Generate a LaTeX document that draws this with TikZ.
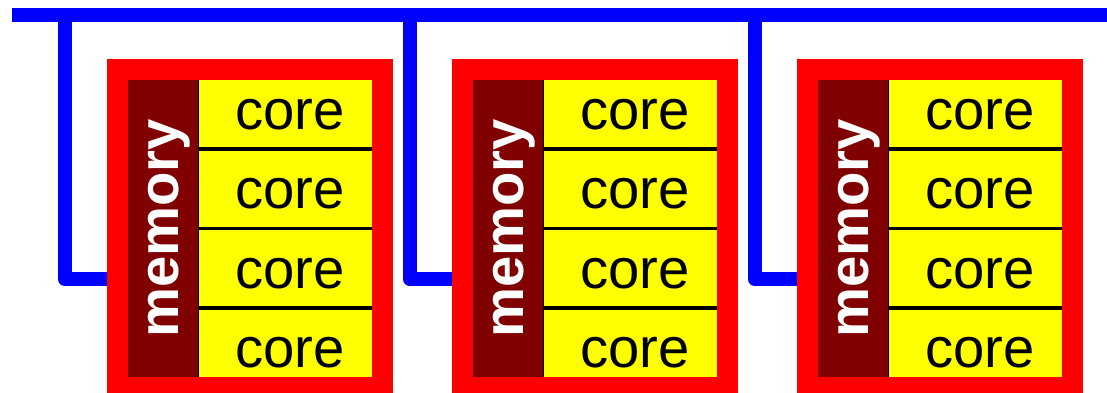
\documentclass[tikz,border=0pt]{standalone}
\usepackage{fontspec}
\setmainfont{Liberation Sans}
\usepackage{tikz}
\usetikzlibrary{positioning}
\definecolor{busblue}{RGB}{0,0,255}
\definecolor{memred}{RGB}{128,0,0}
\definecolor{coreyellow}{RGB}{255,255,0}
\definecolor{framered}{RGB}{255,0,0}
\tikzset{
    nodeframe/.style={
           rectangle,
           draw=framered, line width=0.42cm,
           minimum width=5.3cm,
           minimum height=6.36cm,
           inner sep=0pt, outer sep=0pt,
           },
    corebox/.style={
           rectangle,
           fill=coreyellow,
           draw=black, line width=0.065cm,
           minimum width=3.7cm,
           minimum height=1.59cm,
           inner sep=0pt, outer sep=0pt,
           text height=0.8cm, text depth=0pt,
           font=\fontsize{32}{38}\selectfont,
           },
    membox/.style={
           rectangle, rotate=90,
           fill=memred,
           minimum width=6.36cm,
           minimum height=1.6cm,
           inner sep=0pt, outer sep=0pt,
           text=white,
           text height=0.84cm, text depth=0pt,
           font=\fontsize{32}{38}\selectfont\bfseries,
           },
    busline/.style={draw=busblue, line width=0.28cm, line join=round},
}

\begin{document}
\begin{tikzpicture}
    \useasboundingbox (0,0) rectangle (22.14,-7.86);

    % the shared bus along the top
    \coordinate (busL) at (0.24,-0.30);
    \coordinate (busR) at (22.14,-0.30);
    \draw[busline] (busL) -- (busR);

    % one node per step of 6.9cm
    \foreach \i in {0,1,2} {
    \begin{scope}[xshift=\i*6.9cm]
        \coordinate (tap\i) at (1.30,-0.30);	% where the drop leaves the bus
        \coordinate (port\i) at (2.14,-5.59);	% where it meets the frame
        \draw[busline] (tap\i) |- (port\i);

        % four cores stacked on the right
        \node[corebox] (core\i a) at (5.8,-2.185) {core};
        \node[corebox] (core\i b) at (5.8,-3.775) {core};
        \node[corebox] (core\i c) at (5.8,-5.365) {core};
        \node[corebox] (core\i d) at (5.8,-6.955) {core};

        % memory strip on the left
        \node[membox] (mem\i) at (3.15,-4.57) {memory};

        % red frame drawn last, over the edges
        \node[nodeframe] (frame\i) at (5.0,-4.57) {};
    \end{scope}
    }
\end{tikzpicture}
\end{document}
